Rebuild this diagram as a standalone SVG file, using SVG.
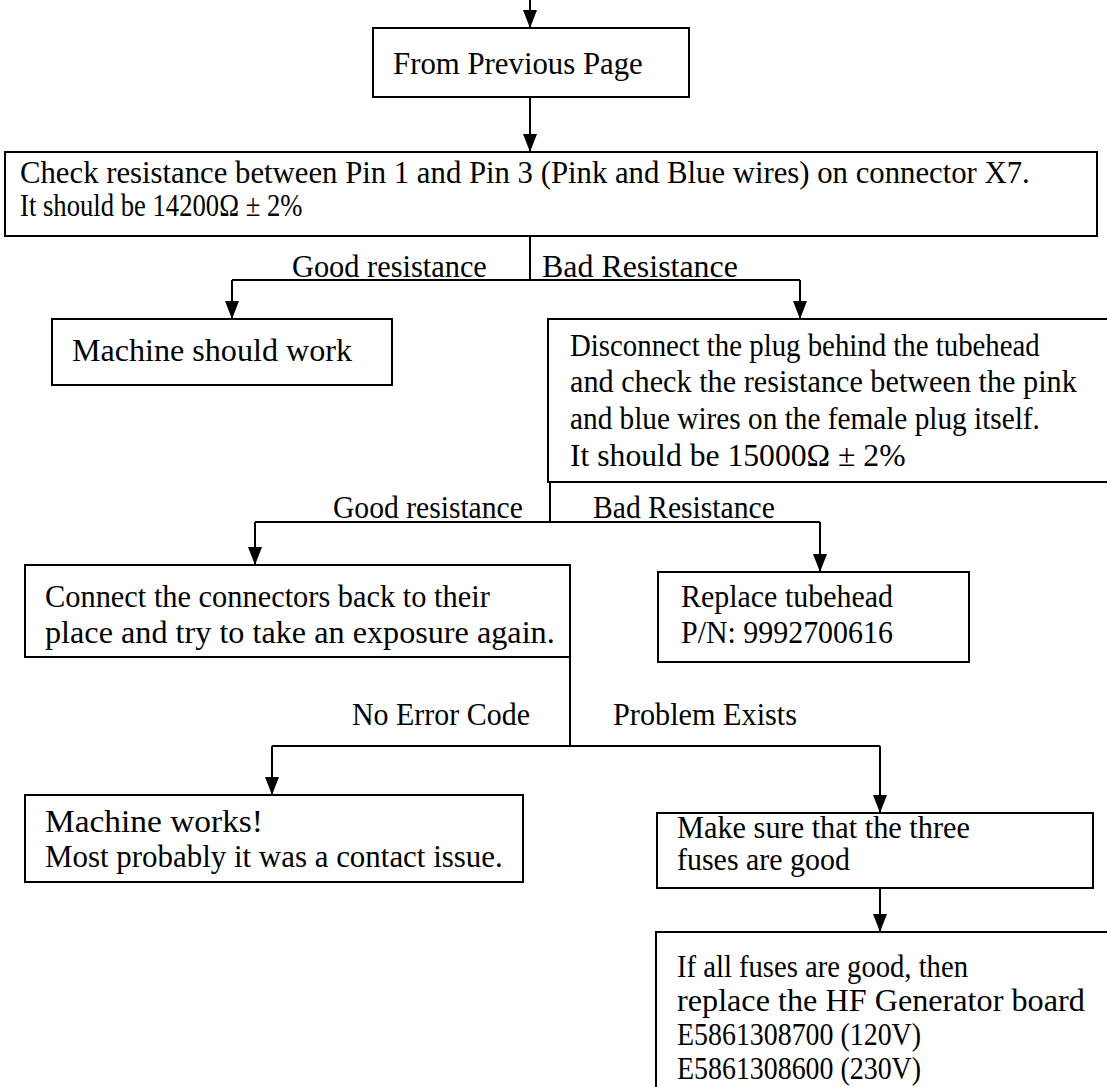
<svg xmlns="http://www.w3.org/2000/svg" width="1107" height="1087" viewBox="0 0 1107 1087">
<style>
.box{fill:#fff;stroke:#000;stroke-width:2}
.c{fill:none;stroke:#000;stroke-width:2}
text{fill:#000}
</style>
<defs>
<marker id="ah" viewBox="0 0 18 14" refX="18" refY="7" markerWidth="18" markerHeight="14" markerUnits="userSpaceOnUse" orient="auto">
<path d="M0,0 L18,7 L0,14 z" fill="#000"/>
</marker>
</defs>
<rect width="1107" height="1087" fill="#fff"/>
<g font-family="Liberation Serif, Tinos, Times New Roman, DejaVu Serif, serif" font-size="31">
<g id="connectors">
<path class="c" d="M530,0 V28" marker-end="url(#ah)"/>
<path class="c" d="M530,97 V152" marker-end="url(#ah)"/>
<path class="c" d="M530,236 V280 M232,280 H800"/>
<path class="c" d="M232,280 V319" marker-end="url(#ah)"/>
<path class="c" d="M800,280 V319" marker-end="url(#ah)"/>
<path class="c" d="M550,482 V522 M255,522 H820"/>
<path class="c" d="M255,522 V565" marker-end="url(#ah)"/>
<path class="c" d="M820,522 V572" marker-end="url(#ah)"/>
<path class="c" d="M570,657 V746 M272,746 H880"/>
<path class="c" d="M272,746 V795" marker-end="url(#ah)"/>
<path class="c" d="M880,746 V813" marker-end="url(#ah)"/>
<path class="c" d="M880,888 V932" marker-end="url(#ah)"/>
<text transform="translate(292,277) scale(0.980,1)">Good resistance</text>
<text transform="translate(542,277) scale(1.030,1)">Bad Resistance</text>
<text transform="translate(333,518) scale(0.955,1)">Good resistance</text>
<text transform="translate(593,518) scale(0.956,1)">Bad Resistance</text>
<text transform="translate(352,725) scale(0.966,1)">No Error Code</text>
<text transform="translate(613,725) scale(0.976,1)">Problem Exists</text>
</g>
<g id="n-prev">
<rect class="box" x="373" y="28" width="316" height="69"/>
<text transform="translate(393,74) scale(0.994,1)">From Previous Page</text>
</g>
<g id="n-check">
<rect class="box" x="5" y="152" width="1092" height="84"/>
<text transform="translate(20,183) scale(0.992,1)">Check resistance between Pin 1 and Pin 3 (Pink and Blue wires) on connector X7.</text>
<text transform="translate(20,216) scale(0.86,1)">It should be 14200Ω ± 2%</text>
</g>
<g id="n-works1">
<rect class="box" x="52" y="319" width="340" height="66"/>
<text transform="translate(72,361) scale(1.036,1)">Machine should work</text>
</g>
<g id="n-disconnect">
<rect class="box" x="548" y="319" width="570" height="163"/>
<text transform="translate(570,356) scale(0.930,1)">Disconnect the plug behind the tubehead</text>
<text transform="translate(570,392) scale(0.975,1)">and check the resistance between the pink</text>
<text transform="translate(570,429) scale(0.945,1)">and blue wires on the female plug itself.</text>
<text transform="translate(570,466) scale(1.022,1)">It should be 15000Ω ± 2%</text>
</g>
<g id="n-connect">
<rect class="box" x="25" y="565" width="545" height="92"/>
<text transform="translate(45,607) scale(0.981,1)">Connect the connectors back to their</text>
<text transform="translate(45,643) scale(1.039,1)">place and try to take an exposure again.</text>
</g>
<g id="n-replace">
<rect class="box" x="658" y="572" width="311" height="90"/>
<text transform="translate(681,607) scale(0.966,1)">Replace tubehead</text>
<text transform="translate(681,643) scale(0.965,1)">P/N: 9992700616</text>
</g>
<g id="n-works2">
<rect class="box" x="25" y="795" width="498" height="87"/>
<text transform="translate(45,832) scale(1.078,1)">Machine works!</text>
<text transform="translate(45,867) scale(0.998,1)">Most probably it was a contact issue.</text>
</g>
<g id="n-fuses">
<rect class="box" x="657" y="813" width="436" height="75"/>
<text transform="translate(677,838) scale(0.978,1)">Make sure that the three</text>
<text transform="translate(677,870) scale(0.966,1)">fuses are good</text>
</g>
<g id="n-replace-board">
<rect class="box" x="656" y="932" width="470" height="180"/>
<text transform="translate(677,977) scale(0.924,1)">If all fuses are good, then</text>
<text transform="translate(677,1011) scale(1.039,1)">replace the HF Generator board</text>
<text transform="translate(677,1045) scale(0.9,1)">E5861308700 (120V)</text>
<text transform="translate(677,1079) scale(0.9,1)">E5861308600 (230V)</text>
</g>
</g>
</svg>
